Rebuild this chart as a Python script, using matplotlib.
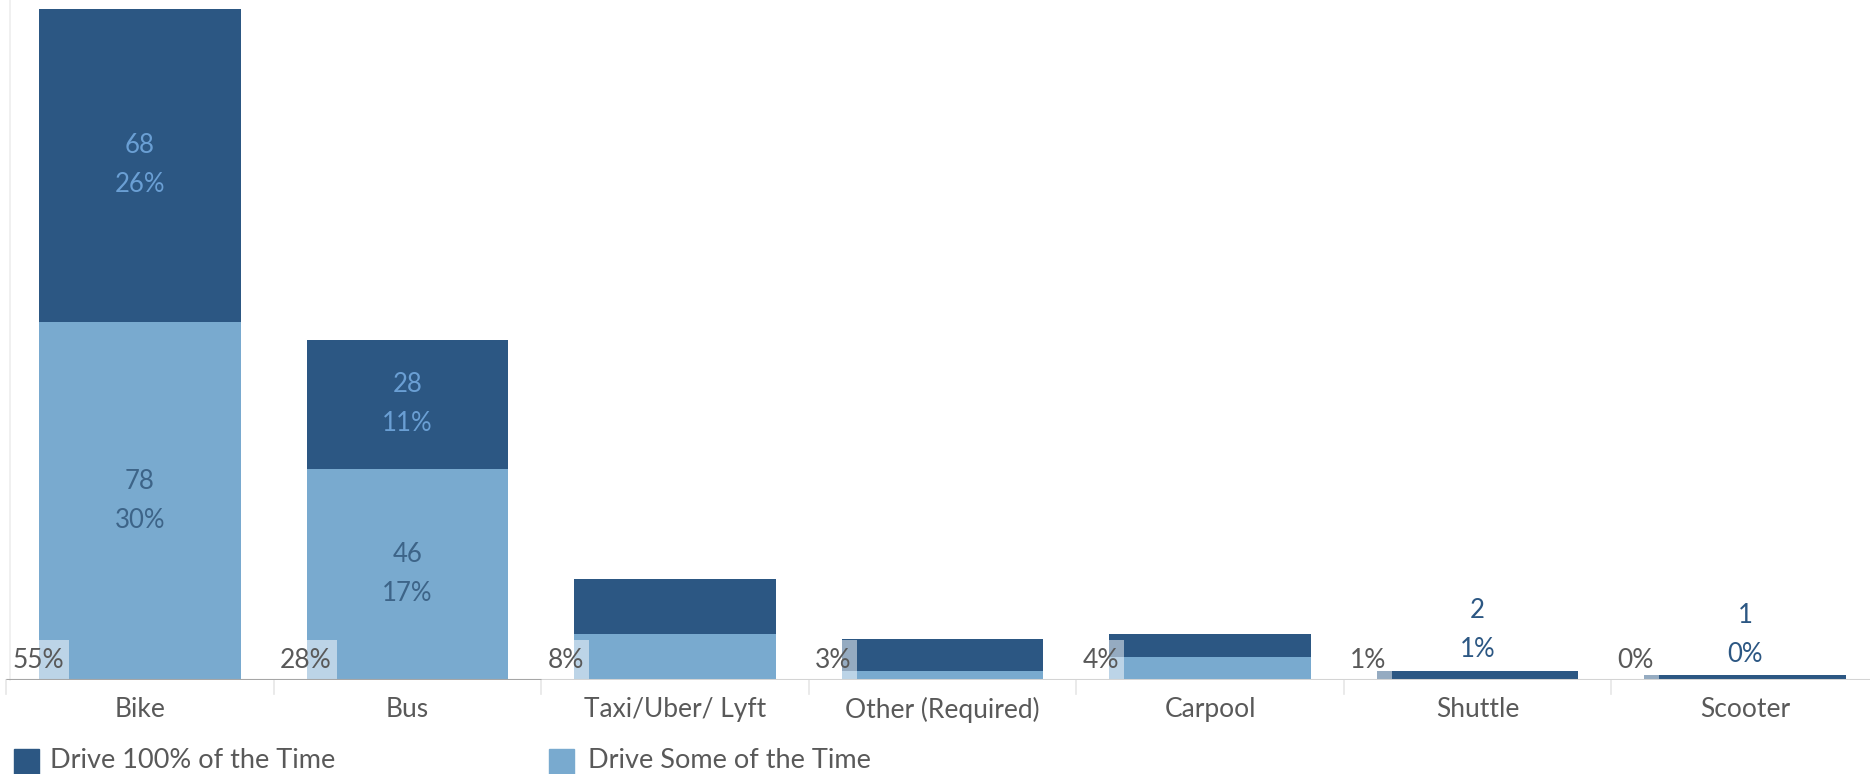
import matplotlib
matplotlib.use("Agg")
import matplotlib.pyplot as plt
from matplotlib.patches import Rectangle

plt.rcParams['font.family'] = ['Lato', 'DejaVu Sans']

categories = ["Bike", "Bus", "Taxi/Uber/ Lyft", "Other (Required)", "Carpool", "Shuttle", "Scooter"]
drive_some = [78, 46, 10, 2, 5, 0, 0]
drive_100 = [68, 28, 12, 7, 5, 2, 1]
some_labels = ["78\n30%", "46\n17%", "", "", "", "", ""]
full_labels = ["68\n26%", "28\n11%", "", "", "", "2\n1%", "1\n0%"]
total_pct = ["55%", "28%", "8%", "3%", "4%", "1%", "0%"]
legend_names = ["Drive 100% of the Time", "Drive Some of the Time"]

DARK = "#2C5783"
LIGHT = "#79AACF"
GRAY = "#595959"

W, H = 1870, 774
fig = plt.figure(figsize=(W / 100, H / 100), dpi=100)
ax = fig.add_axes([6 / W, (H - 680) / H, 1873 / W, 680 / H])
ax.set_xlim(-0.5, len(categories) - 0.5)
ax.set_ylim(0, 148)

x = list(range(len(categories)))
bw = 0.753
ax.bar(x, drive_some, width=bw, color=LIGHT, zorder=2)
ax.bar(x, drive_100, width=bw, bottom=drive_some, color=DARK, zorder=2)

fs = 19
vfs = 18.5
ls = 1.7
pct_texts = []
for i in x:
    s, d = drive_some[i], drive_100[i]
    if some_labels[i]:
        ax.text(i, s / 2, some_labels[i], ha="center", va="center", color="#3D6488",
                fontsize=vfs, linespacing=ls, zorder=4)
    if full_labels[i]:
        if s > 0:
            ax.text(i, s + d / 2, full_labels[i], ha="center", va="center", color="#6A9FD4",
                    fontsize=vfs, linespacing=ls, zorder=4)
        else:
            ax.annotate(full_labels[i], (i, s + d), xytext=(0, 6), textcoords="offset points",
                        ha="center", va="bottom", color=DARK, fontsize=vfs, linespacing=ls,
                        zorder=4)
    t = ax.text(i - bw / 2 - 0.1, 4.2, total_pct[i], ha="left", va="center", color=GRAY,
                fontsize=fs, zorder=4)
    pct_texts.append(t)

# translucent label backgrounds (visible only where they overlap bars)
fig.canvas.draw()
inv = ax.transData.inverted()
for t in pct_texts:
    bb = t.get_window_extent()
    (x0, _), (x1, _) = inv.transform([(bb.x0 - 1, 0), (bb.x1 + 5, 0)])
    ax.add_patch(Rectangle((x0, 0), x1 - x0, 8.8, facecolor="white", edgecolor="none",
                           alpha=0.5, zorder=3))

# axes styling
for sp in ["top", "right", "bottom"]:
    ax.spines[sp].set_visible(False)
ax.spines["left"].set_color("#eeeeee")
ax.spines["left"].set_linewidth(1.2)
ax.spines["left"].set_position(("outward", -3))
ax.axhline(0, color="#d4d4d4", lw=2.2, zorder=5)
ax.hlines(0, -0.5, 1.5, color="#a6a6a6", lw=2.2, zorder=6)
ax.set_yticks([])
ax.set_xticks(x)
ax.set_xticklabels(categories, fontsize=fs, color=GRAY)
ax.tick_params(axis="x", length=0, pad=12)
for b in [k + 0.5 for k in range(-1, len(categories))]:
    ax.plot([b, b], [0, -0.02], transform=ax.get_xaxis_transform(), color="#e6e6e6",
            lw=1.2, clip_on=False, zorder=1)

# legend
lx = [14, 549]
tx = [50, 588]
cols = [DARK, LIGHT]
for k in range(2):
    fig.patches.append(Rectangle((lx[k] / W, 0), 25 / W, (H - 749) / H, transform=fig.transFigure,
                                 color=cols[k], zorder=3))
    fig.text(tx[k] / W, (H - 761) / H, legend_names[k], ha="left", va="center",
             fontsize=19.5, color=GRAY)

fig.savefig("out.png", dpi=100)
